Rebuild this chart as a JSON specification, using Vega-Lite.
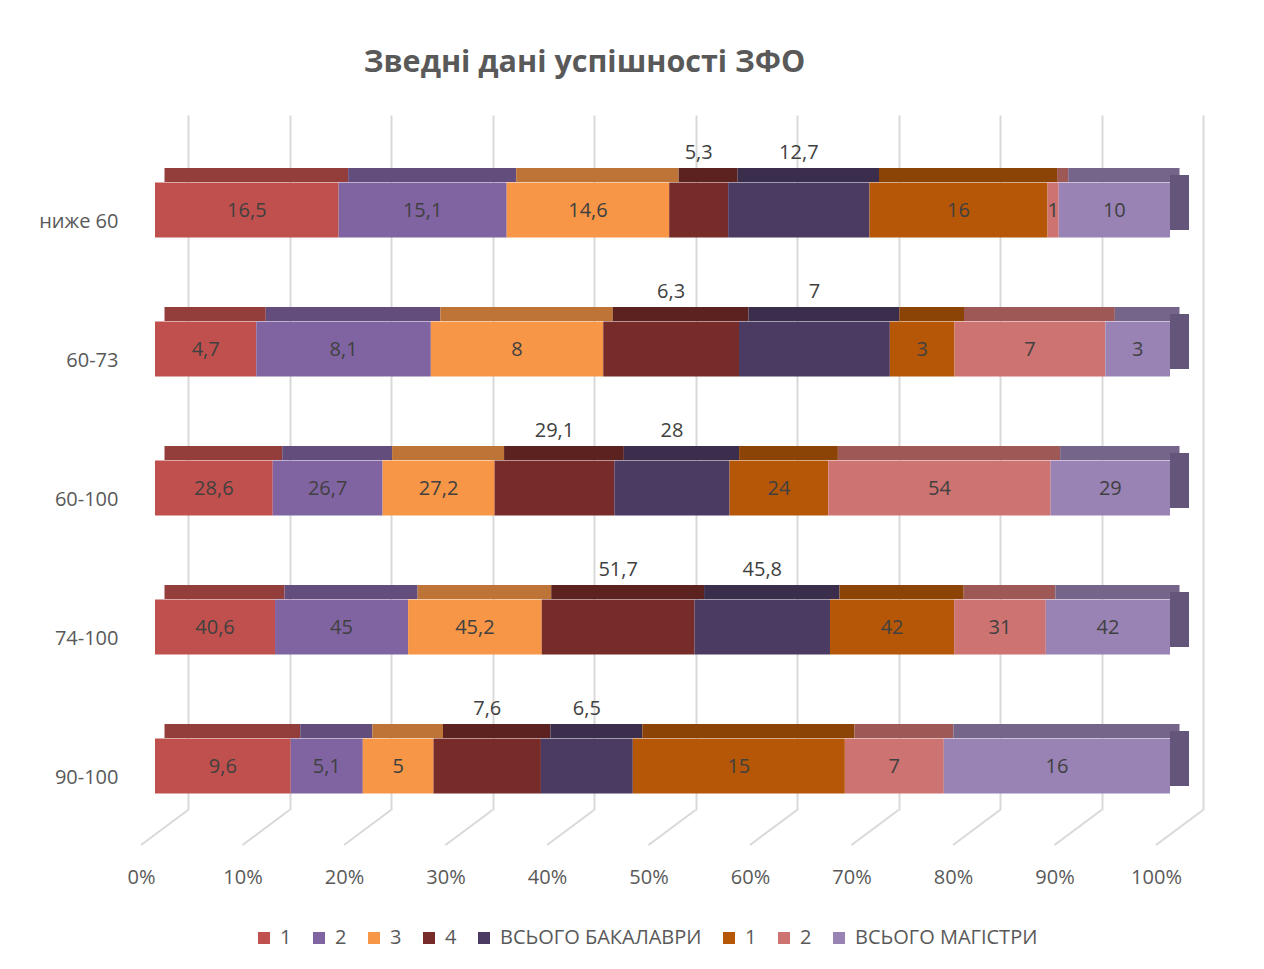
{
  "$schema": "https://vega.github.io/schema/vega-lite/v6.json",
  "autosize": "none",
  "width": 1015,
  "height": 695,
  "padding": {"left": 155, "top": 115, "right": 94, "bottom": 159},
  "background": "white",
  "title": {
    "text": "Зведні дані успішності ЗФО",
    "font": "Open Sans",
    "fontSize": 30.5,
    "fontWeight": "bold",
    "color": "#595959",
    "anchor": "middle",
    "frame": "group",
    "dx": -78,
    "baseline": "alphabetic",
    "offset": 13
  },
  "config": {
    "locale": {"number": {"decimal": ",", "thousands": " ", "grouping": [3], "currency": ["", ""]}},
    "view": {"stroke": null},
    "font": "Open Sans"
  },
  "datasets": {
    "bars": [
      {"c": "ниже 60", "s": "1", "o": 1, "v": 16.5},
      {"c": "ниже 60", "s": "2", "o": 2, "v": 15.1},
      {"c": "ниже 60", "s": "3", "o": 3, "v": 14.6},
      {"c": "ниже 60", "s": "4", "o": 4, "v": 5.3},
      {"c": "ниже 60", "s": "ВСЬОГО БАКАЛАВРИ", "o": 5, "v": 12.7},
      {"c": "ниже 60", "s": "1 ", "o": 6, "v": 16},
      {"c": "ниже 60", "s": "2 ", "o": 7, "v": 1},
      {"c": "ниже 60", "s": "ВСЬОГО МАГІСТРИ", "o": 8, "v": 10},
      {"c": "60-73", "s": "1", "o": 1, "v": 4.7},
      {"c": "60-73", "s": "2", "o": 2, "v": 8.1},
      {"c": "60-73", "s": "3", "o": 3, "v": 8},
      {"c": "60-73", "s": "4", "o": 4, "v": 6.3},
      {"c": "60-73", "s": "ВСЬОГО БАКАЛАВРИ", "o": 5, "v": 7},
      {"c": "60-73", "s": "1 ", "o": 6, "v": 3},
      {"c": "60-73", "s": "2 ", "o": 7, "v": 7},
      {"c": "60-73", "s": "ВСЬОГО МАГІСТРИ", "o": 8, "v": 3},
      {"c": "60-100", "s": "1", "o": 1, "v": 28.6},
      {"c": "60-100", "s": "2", "o": 2, "v": 26.7},
      {"c": "60-100", "s": "3", "o": 3, "v": 27.2},
      {"c": "60-100", "s": "4", "o": 4, "v": 29.1},
      {"c": "60-100", "s": "ВСЬОГО БАКАЛАВРИ", "o": 5, "v": 28},
      {"c": "60-100", "s": "1 ", "o": 6, "v": 24},
      {"c": "60-100", "s": "2 ", "o": 7, "v": 54},
      {"c": "60-100", "s": "ВСЬОГО МАГІСТРИ", "o": 8, "v": 29},
      {"c": "74-100", "s": "1", "o": 1, "v": 40.6},
      {"c": "74-100", "s": "2", "o": 2, "v": 45},
      {"c": "74-100", "s": "3", "o": 3, "v": 45.2},
      {"c": "74-100", "s": "4", "o": 4, "v": 51.7},
      {"c": "74-100", "s": "ВСЬОГО БАКАЛАВРИ", "o": 5, "v": 45.8},
      {"c": "74-100", "s": "1 ", "o": 6, "v": 42},
      {"c": "74-100", "s": "2 ", "o": 7, "v": 31},
      {"c": "74-100", "s": "ВСЬОГО МАГІСТРИ", "o": 8, "v": 42},
      {"c": "90-100", "s": "1", "o": 1, "v": 9.6},
      {"c": "90-100", "s": "2", "o": 2, "v": 5.1},
      {"c": "90-100", "s": "3", "o": 3, "v": 5},
      {"c": "90-100", "s": "4", "o": 4, "v": 7.6},
      {"c": "90-100", "s": "ВСЬОГО БАКАЛАВРИ", "o": 5, "v": 6.5},
      {"c": "90-100", "s": "1 ", "o": 6, "v": 15},
      {"c": "90-100", "s": "2 ", "o": 7, "v": 7},
      {"c": "90-100", "s": "ВСЬОГО МАГІСТРИ", "o": 8, "v": 16}
    ],
    "grid": [
      {"p": 0}, {"p": 0.1}, {"p": 0.2}, {"p": 0.3}, {"p": 0.4}, {"p": 0.5},
      {"p": 0.6}, {"p": 0.7}, {"p": 0.8}, {"p": 0.9}, {"p": 1}
    ],
    "cats": [
      {"c": "ниже 60"}, {"c": "60-73"}, {"c": "60-100"}, {"c": "74-100"}, {"c": "90-100"}
    ]
  },
  "layer": [
    {
      "data": {"name": "grid"},
      "mark": {"type": "rule", "color": "#D9D9D9", "strokeWidth": 2, "xOffset": 33, "x2Offset": -14, "yOffset": 69.5, "y2Offset": 104.5},
      "encoding": {
        "x": {
          "field": "p", "type": "quantitative",
          "scale": {"domain": [0, 1], "nice": false, "zero": true},
          "axis": {
            "values": [0, 0.1, 0.2, 0.3, 0.4, 0.5, 0.6, 0.7, 0.8, 0.9, 1],
            "format": ".0%",
            "title": null,
            "domain": false,
            "ticks": false,
            "tickSize": 0,
            "grid": true,
            "gridColor": "#D9D9D9",
            "gridWidth": 2,
            "tickOffset": 33,
            "labelOffset": -47,
            "labelPadding": 57,
            "labelFlush": false,
            "labelOverlap": false,
            "labelFont": "Open Sans",
            "labelFontSize": 20,
            "labelColor": "#595959"
          }
        },
        "x2": {"field": "p"},
        "y": {
          "datum": "90-100", "type": "nominal",
          "scale": {"domain": ["ниже 60", "60-73", "60-100", "74-100", "90-100"], "paddingInner": 0, "paddingOuter": 0},
          "axis": {
            "title": null,
            "domain": false,
            "ticks": false,
            "tickSize": 0,
            "grid": false,
            "labelOffset": 37.5,
            "labelPadding": 37,
            "labelFont": "Open Sans",
            "labelFontSize": 20,
            "labelColor": "#595959"
          }
        },
        "y2": {"datum": "90-100"}
      }
    },
    {
      "data": {"name": "bars"},
      "mark": {"type": "bar", "size": 14, "yOffset": -9.5, "xOffset": 9.5, "x2Offset": 9.5},
      "encoding": {
        "y": {"field": "c", "type": "nominal"},
        "x": {"field": "v", "type": "quantitative", "stack": "normalize"},
        "order": {"field": "o", "type": "quantitative"},
        "color": {
          "field": "s", "type": "nominal",
          "scale": {
            "domain": ["1", "2", "3", "4", "ВСЬОГО БАКАЛАВРИ", "1 ", "2 ", "ВСЬОГО МАГІСТРИ"],
            "range": ["#943E3B", "#634D7D", "#BE7436", "#5C2220", "#3A2E4C", "#8C4306", "#9E5957", "#76658B"]
          },
          "legend": null
        }
      }
    },
    {
      "data": {"name": "bars"},
      "mark": {"type": "bar", "size": 55, "yOffset": 25.5},
      "encoding": {
        "y": {"field": "c", "type": "nominal"},
        "x": {"field": "v", "type": "quantitative", "stack": "normalize"},
        "order": {"field": "o", "type": "quantitative"},
        "color": {
          "field": "s", "type": "nominal",
          "scale": {
            "domain": ["1", "2", "3", "4", "ВСЬОГО БАКАЛАВРИ", "1 ", "2 ", "ВСЬОГО МАГІСТРИ"],
            "range": ["#C0504D", "#8064A2", "#F79646", "#772C2A", "#4B3B63", "#B65708", "#CD7371", "#9983B5"]
          },
          "legend": {
            "title": null,
            "orient": "none",
            "legendX": 99,
            "legendY": 813,
            "direction": "horizontal",
            "columns": 8,
            "columnPadding": 17,
            "symbolType": "square",
            "symbolSize": 144,
            "symbolStrokeWidth": 0,
            "labelOffset": 6,
            "labelLimit": 400,
            "labelFont": "Open Sans",
            "labelFontSize": 20,
            "labelColor": "#595959"
          }
        }
      }
    },
    {
      "data": {"name": "cats"},
      "mark": {"type": "bar", "size": 55, "yOffset": 18, "x2Offset": 19, "color": "#64557B"},
      "encoding": {
        "y": {"field": "c", "type": "nominal"},
        "x": {"datum": 1, "type": "quantitative"},
        "x2": {"datum": 1}
      }
    },
    {
      "data": {"name": "bars"},
      "mark": {"type": "text", "yOffset": 26.5, "font": "Open Sans", "fontSize": 20, "color": "#404040"},
      "encoding": {
        "y": {"field": "c", "type": "nominal"},
        "x": {"field": "v", "type": "quantitative", "stack": "normalize", "bandPosition": 0.5},
        "order": {"field": "o", "type": "quantitative"},
        "detail": {"field": "s"},
        "text": {
          "field": "v", "type": "quantitative", "format": ".1~f",
          "condition": {"test": "datum.o == 4 || datum.o == 5", "value": ""}
        }
      }
    },
    {
      "data": {"name": "bars"},
      "mark": {"type": "text", "yOffset": -31.5, "font": "Open Sans", "fontSize": 20, "color": "#404040"},
      "encoding": {
        "y": {"field": "c", "type": "nominal"},
        "x": {"field": "v", "type": "quantitative", "stack": "normalize", "bandPosition": 0.5},
        "order": {"field": "o", "type": "quantitative"},
        "detail": {"field": "s"},
        "text": {
          "field": "v", "type": "quantitative", "format": ".1~f",
          "condition": {"test": "datum.o != 4 && datum.o != 5", "value": ""}
        }
      }
    }
  ],
  "resolve": {"scale": {"color": "independent"}}
}
